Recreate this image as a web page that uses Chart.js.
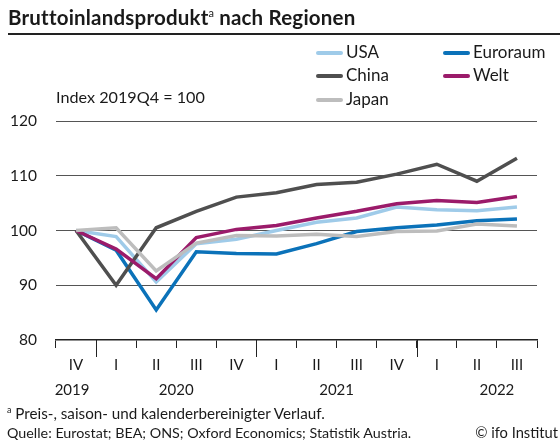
<!DOCTYPE html>
<html>
<head>
<meta charset="utf-8">
<script src="https://cdn.jsdelivr.net/npm/chart.js@4.4.1/dist/chart.umd.min.js"></script>
<style>
  html, body { margin: 0; padding: 0; background: #fff; }
  body { width: 560px; height: 441px; position: relative; overflow: hidden; font-family: Lato, "Noto Sans", sans-serif; color: #1a1a1a; }
  #chart { position: absolute; left: 0; top: 0; }
  .txt { position: absolute; white-space: nowrap; line-height: 1.2; }
  #title { left: 8px; top: 5px; font-size: 20.5px; font-weight: bold; letter-spacing: 0.2px; }
  #title sup { font-size: 11px; font-weight: normal; vertical-align: 8px; letter-spacing: 0; }
  #rule { position: absolute; left: 8px; right: 0; top: 32.5px; height: 2px; background: #222; }
  #unit { left: 56px; top: 86.7px; font-size: 16.2px; }
  .leg { position: absolute; font-size: 17px; height: 20px; line-height: 20px; }
  .leg i { position: absolute; left: 0; top: 9px; width: 27px; height: 4px; border-radius: 2px; }
  .leg span { position: absolute; left: 30px; top: 0; white-space: nowrap; }
  #foot1 { left: 7px; top: 404px; font-size: 15.2px; }
  #foot1 sup { font-size: 9px; vertical-align: 6px; }
  #foot2 { left: 7px; top: 424px; font-size: 14.3px; }
  #copy { right: 2px; top: 424px; font-size: 14.7px; }
</style>
</head>
<body>
<canvas id="chart" width="560" height="441"></canvas>
<div class="txt" id="title">Bruttoinlandsprodukt<sup>a</sup> nach Regionen</div>
<div id="rule"></div>
<div class="txt" id="unit">Index 2019Q4 = 100</div>
<div id="legend"></div>
<div class="txt" id="foot1"><sup>a</sup> Preis-, saison- und kalenderbereinigter Verlauf.</div>
<div class="txt" id="foot2">Quelle: Eurostat; BEA; ONS; Oxford Economics; Statistik Austria.</div>
<div class="txt" id="copy">© ifo Institut</div>
<script>
// --- DONNEES ---
const quarters = ['IV', 'I', 'II', 'III', 'IV', 'I', 'II', 'III', 'IV', 'I', 'II', 'III'];
const yearLabels = ['2019', '2020', '2021', '2022'];
const yearCenters = [-0.1, 2.5, 6.5, 10.5];
const yearBreaks = [0.5, 4.5, 8.5];
const yTicks = [80, 90, 100, 110, 120];

const usa      = [100, 98.9, 90.6, 97.6, 98.4, 100.0, 101.5, 102.3, 104.3, 103.8, 103.6, 104.3];
const euroraum = [100, 96.4, 85.5, 96.1, 95.8, 95.7, 97.6, 99.8, 100.5, 101.0, 101.8, 102.1];
const china    = [100, 90.0, 100.5, 103.5, 106.1, 106.9, 108.4, 108.8, 110.3, 112.1, 109.0, 113.2];
const welt     = [100, 96.6, 91.2, 98.7, 100.2, 100.9, 102.3, 103.5, 104.9, 105.5, 105.1, 106.2];
const japan    = [100, 100.5, 92.6, 97.7, 99.1, 99.0, 99.3, 98.9, 99.8, 99.9, 101.2, 100.8];

const series = [
    { label: 'USA',      data: usa,      color: '#9fcbe9', order: 5, legX: 316, legY: 42.4 },
    { label: 'Euroraum', data: euroraum, color: '#0b72b9', order: 4, legX: 443, legY: 42.4 },
    { label: 'China',    data: china,    color: '#4f4f4f', order: 3, legX: 316, legY: 65.1 },
    { label: 'Welt',     data: welt,     color: '#9b1b6a', order: 2, legX: 443, legY: 65.1 },
    { label: 'Japan',    data: japan,    color: '#bdbdbd', order: 1, legX: 316, legY: 88.6 }
];

// --- LEGENDE ---
let leg = document.getElementById('legend');
series.forEach(s => {
    leg.innerHTML += `<div class="leg" style="left:${s.legX}px;top:${s.legY}px"><i style="background:${s.color}"></i><span>${s.label}</span></div>`;
});

// --- AXE X : TRAITS LONGS + ANNEES ---
const yearPlugin = {
    id: 'years',
    afterDraw(chart) {
        let ctx = chart.ctx, sx = chart.scales.x, y0 = sx.top;
        ctx.save();
        ctx.strokeStyle = '#222'; ctx.lineWidth = 1;
        yearBreaks.forEach(b => {
            let px = Math.round(sx.getPixelForValue(b)) + 0.5;
            ctx.beginPath(); ctx.moveTo(px, y0); ctx.lineTo(px, y0 + 17); ctx.stroke();
        });
        ctx.fillStyle = '#1a1a1a';
        ctx.font = '15px Lato, "Noto Sans", sans-serif';
        ctx.textAlign = 'center'; ctx.textBaseline = 'alphabetic';
        yearLabels.forEach((t, i) => { ctx.fillText(t, sx.getPixelForValue(yearCenters[i]), 395); });
        ctx.restore();
    }
};

new Chart(document.getElementById('chart').getContext('2d'), {
    type: 'line',
    data: {
        labels: quarters,
        datasets: series.map(s => ({
            label: s.label, data: s.data, borderColor: s.color, backgroundColor: s.color,
            borderWidth: 3.5, pointRadius: 0, tension: 0, order: s.order
        }))
    },
    options: {
        responsive: false, animation: false, devicePixelRatio: 1,
        layout: { padding: { top: 121, right: 23, left: 0, bottom: 0 } },
        plugins: { legend: { display: false }, tooltip: { enabled: false } },
        scales: {
            x: {
                offset: true,
                afterFit: s => { s.height = 101; },
                grid: { offset: true, drawOnChartArea: false, drawTicks: true, tickLength: 8, tickColor: '#222', lineWidth: 1 },
                border: { display: true, color: '#222', width: 1.5 },
                ticks: { color: '#1a1a1a', font: { size: 15, family: 'Lato, "Noto Sans", sans-serif' }, padding: 8, maxRotation: 0, autoSkip: false }
            },
            y: {
                min: 80, max: 120,
                afterFit: s => { s.width = 56; },
                afterBuildTicks: s => { s.ticks = yTicks.map(v => ({ value: v })); },
                grid: { drawTicks: false, color: c => c.tick.value === 80 ? 'rgba(0,0,0,0)' : '#555', lineWidth: 1 },
                border: { display: false },
                ticks: { color: '#1a1a1a', font: { size: 15.5, family: 'Lato, "Noto Sans", sans-serif' }, padding: 19 }
            }
        }
    },
    plugins: [yearPlugin]
});
</script>
</body>
</html>
